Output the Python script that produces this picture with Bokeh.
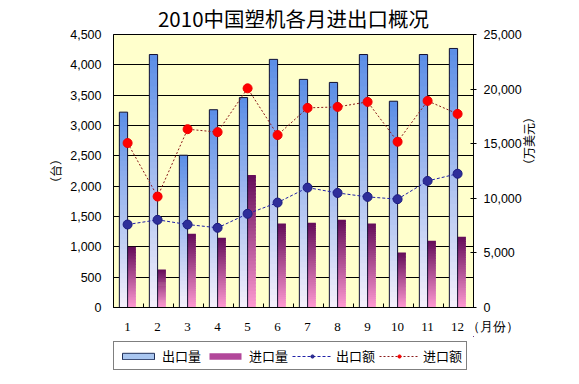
import math
from bokeh.plotting import figure
from bokeh.layouts import column
from bokeh.models import (Range1d, LinearAxis, FixedTicker, NumeralTickFormatter,
                          ColumnDataSource, Legend, LegendItem, Title)
from bokeh.embed import file_html
from bokeh.resources import INLINE

# ---------------- data ----------------
months = [1, 2, 3, 4, 5, 6, 7, 8, 9, 10, 11, 12]
month_labels = ["1", "2", "3", "4", "5", "6", "7", "8", "9", "10", "11", "12"]
unit_label = "（月份）"
export_qty = [3220, 4170, 2510, 3260, 3460, 4090, 3760, 3710, 4170, 3400, 4170, 4270]   # 出口量 (台)
import_qty = [1000, 625, 1215, 1150, 2185, 1385, 1395, 1445, 1385, 905, 1100, 1165]      # 进口量 (台)
export_val = [7600, 8030, 7600, 7300, 8580, 9610, 10980, 10490, 10130, 9920, 11590, 12250]   # 出口额 (万美元)
import_val = [15060, 10160, 16330, 16060, 20070, 15790, 18280, 18370, 18830, 15180, 18920, 17730]  # 进口额 (万美元)
left_ticks = [0, 500, 1000, 1500, 2000, 2500, 3000, 3500, 4000, 4500]
right_ticks = [0, 5000, 10000, 15000, 20000, 25000]

CJK = "Noto Sans CJK SC"
X0, X1 = 0.53, 12.53

def hex2rgb(h):
    h = h.lstrip("#")
    return tuple(int(h[i:i + 2], 16) for i in (0, 2, 4))

def lerp(c0, c1, t):
    a, b = hex2rgb(c0), hex2rgb(c1)
    return "#%02x%02x%02x" % tuple(round(a[i] + (b[i] - a[i]) * t) for i in range(3))

def gradient_source(xs, vals, c_bottom, c_top, n=40):
    X, B, T, C = [], [], [], []
    for x, v in zip(xs, vals):
        for k in range(n):
            X.append(x)
            B.append(v * k / n)
            T.append(min(v, v * (k + 1.6) / n))
            C.append(lerp(c_bottom, c_top, (k + 0.5) / n))
    return ColumnDataSource(dict(x=X, bottom=B, top=T, color=C))

p = figure(width=573, height=336, title=None, toolbar_location=None, output_backend="svg",
           x_range=Range1d(X0, X1), y_range=Range1d(0, 4500),
           min_border_left=113, min_border_right=100, min_border_top=34, min_border_bottom=28)
p.border_fill_color = "white"
p.outline_line_color = "black"
p.outline_line_width = 1
p.background_fill_color = "#FFFFCC"

p.extra_y_ranges = {"amt": Range1d(0, 25000)}

bw = 0.275
xb = [m - bw / 2 for m in months]
xp = [m + bw / 2 for m in months]

# gradient bars
src_b = gradient_source(xb, export_qty, "#f6f0fb", "#5a8de6")
src_p = gradient_source(xp, import_qty, "#ff9ad2", "#640c58")
p.vbar(x="x", bottom="bottom", top="top", width=bw, source=src_b,
       fill_color="color", line_color=None)
p.vbar(x="x", bottom="bottom", top="top", width=bw, source=src_p,
       fill_color="color", line_color=None)
p.vbar(x=xb, top=export_qty, bottom=0, width=bw, fill_alpha=0, line_color="#111133", line_width=1)

# lines
p.line(months, export_val, y_range_name="amt", line_color="#2020a8", line_dash="3 2", line_width=1)
p.scatter(months, export_val, y_range_name="amt", size=9, fill_color="#2e2e9a",
          line_color="#1c1c80", line_width=1)
p.line(months, import_val, y_range_name="amt", line_color="#8b1a1a", line_dash="2 2", line_width=1)
p.scatter(months, import_val, y_range_name="amt", size=9, fill_color="#ff0000",
          line_color="#ee0000", line_width=1)

# grid
p.xgrid.visible = False
p.ygrid.grid_line_color = "black"
p.ygrid.grid_line_width = 1
p.ygrid.ticker = FixedTicker(ticks=left_ticks)

# x axis: month labels, plus the unit label at the right end of the axis
unit_pos = X1 - 0.001
xa = p.xaxis[0]
xa.ticker = FixedTicker(ticks=months + [unit_pos], minor_ticks=[X0 + k for k in range(1, 12)])
overrides = {m: l for m, l in zip(months, month_labels)}
overrides[unit_pos] = "\u3000\u3000\u3000" + unit_label
xa.major_label_overrides = overrides
xa.major_tick_in = 0
xa.major_tick_out = 0
xa.minor_tick_in = 4
xa.minor_tick_out = 0
xa.minor_tick_line_color = "black"
xa.axis_line_color = "black"
xa.major_label_standoff = 11
xa.major_label_text_font = "Liberation Serif"
xa.major_label_text_font_size = "13px"
xa.major_label_text_color = "black"

# left axis
ya = p.yaxis[0]
ya.ticker = FixedTicker(ticks=left_ticks)
ya.formatter = NumeralTickFormatter(format="0,0")
ya.major_tick_in = 0
ya.major_tick_out = 0
ya.minor_tick_line_color = None
ya.axis_line_color = "black"
ya.major_label_standoff = 12
ya.major_label_text_font = "Liberation Sans"
ya.major_label_text_font_size = "12.5px"
ya.major_label_text_color = "black"
ya.axis_label = "（台）"
ya.axis_label_standoff = 3
ya.axis_label_text_font = CJK
ya.axis_label_text_font_size = "12px"
ya.axis_label_text_font_style = "normal"
ya.axis_label_text_color = "black"

# right axis (ticks and numbers)
ra = LinearAxis(y_range_name="amt", ticker=FixedTicker(ticks=right_ticks),
                formatter=NumeralTickFormatter(format="0,0"))
ra.major_tick_in = 3
ra.major_tick_out = 3
ra.major_tick_line_color = "black"
ra.minor_tick_line_color = None
ra.axis_line_color = "black"
ra.major_label_standoff = 7
ra.major_label_text_font = "Liberation Sans"
ra.major_label_text_font_size = "12.5px"
ra.major_label_text_color = "black"
p.add_layout(ra, "right")

# right unit label, carried by a tick-less axis whose bounds place the label
rl = LinearAxis(y_range_name="amt", ticker=FixedTicker(ticks=[]), bounds=(0, 19500))
rl.axis_line_color = None
rl.major_tick_line_color = None
rl.minor_tick_line_color = None
rl.major_label_text_alpha = 0
rl.axis_label = "（万美元）"
rl.axis_label_standoff = 4
rl.axis_label_text_font = CJK
rl.axis_label_text_font_size = "12px"
rl.axis_label_text_font_style = "normal"
rl.axis_label_text_color = "black"
if "axis_label_orientation" in rl.properties():
    rl.axis_label_orientation = math.pi / 2
p.add_layout(rl, "right")

# title
p.add_layout(Title(text="2010中国塑机各月进出口概况", align="center", text_font=CJK,
                   text_font_size="20.5px", text_font_style="normal", text_color="black",
                   standoff=0, vertical_align="top"), "above")

# ---------------- legend strip ----------------
# the legend renderers draw the same series, but this strip's ranges keep them out of view
q = figure(width=573, height=44, title=None, toolbar_location=None, output_backend="svg",
           x_range=Range1d(-20, -19), y_range=Range1d(-20, -19), x_axis_type=None, y_axis_type=None,
           min_border_left=0, min_border_right=0, min_border_top=0, min_border_bottom=0)
q.outline_line_color = None
q.background_fill_color = "white"
q.border_fill_color = "white"
q.grid.visible = False

g_b = q.vbar(x=months, top=export_qty, width=bw, fill_color="#a9c6f0", line_color="#20305a", line_width=1)
g_p = q.vbar(x=months, top=import_qty, width=bw, fill_color="#b2479a", line_color=None)
g_el = q.line(months, export_val, line_color="#2020a8", line_dash="3 2", line_width=1)
g_em = q.scatter(months, export_val, size=7, fill_color="#2e2e9a", line_color="#1c1c80")
g_il = q.line(months, import_val, line_color="#8b1a1a", line_dash="2 2", line_width=1)
g_im = q.scatter(months, import_val, size=7, fill_color="#ff0000", line_color="#ee0000")

legend = Legend(items=[
    LegendItem(label="出口量", renderers=[g_b]),
    LegendItem(label="进口量", renderers=[g_p]),
    LegendItem(label="出口额", renderers=[g_el, g_em]),
    LegendItem(label="进口额", renderers=[g_il, g_im]),
], orientation="horizontal", location=(0, 10))
legend.border_line_color = "black"
legend.border_line_width = 1
legend.background_fill_color = "white"
legend.background_fill_alpha = 1
legend.padding = 4
legend.spacing = 4
legend.margin = 0
legend.glyph_width = 40
legend.glyph_height = 8
legend.label_standoff = 4
legend.label_text_font = CJK
legend.label_text_font_size = "13px"
legend.label_text_color = "black"
q.add_layout(legend, "center")

layout = column(p, q, spacing=0)
open("out.html", "w").write(file_html(layout, INLINE))
